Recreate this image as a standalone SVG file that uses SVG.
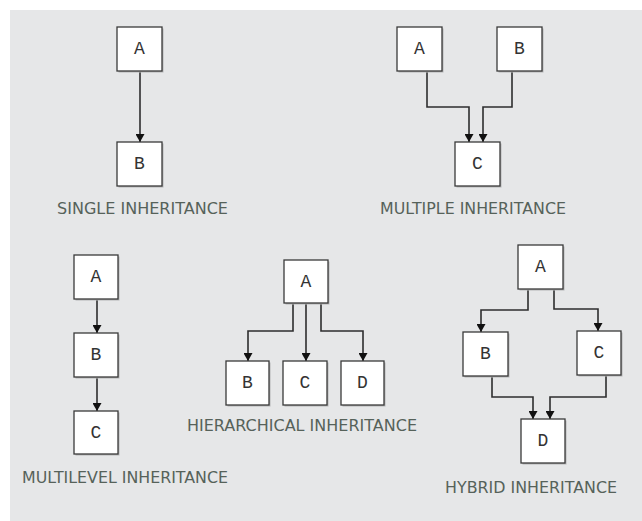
<svg xmlns="http://www.w3.org/2000/svg" width="642" height="521" viewBox="0 0 642 521">
<style>
.bg{fill:#fff}
.panel{fill:#e6e7e8}
.box{fill:#fff;stroke:#3a3a3a;stroke-width:1.3}
.shadow{fill:#b4b5b6}
.nt{font-family:"Liberation Mono","Courier New",monospace;font-size:18px;fill:#333;text-anchor:middle}
.lbl{font-family:"DejaVu Sans",Verdana,sans-serif;font-size:15px;fill:#56625a}
.c{fill:none;stroke:#2e2e2e;stroke-width:1.6;marker-end:url(#ah)}
</style>
<defs>
<marker id="ah" markerWidth="8" markerHeight="9" refX="8" refY="4.5" orient="auto" markerUnits="userSpaceOnUse" viewBox="0 0 8 9">
<path d="M0,0 L8,4.5 L0,9 Z" fill="#111"/>
</marker>
</defs>
<rect class="bg" x="0" y="0" width="642" height="521"/>
<rect class="panel" x="10" y="10" width="632" height="511"/>

<g id="connectors">
<path class="c" d="M140,71 V142"/>
<path class="c" d="M427,71 V107 H469 V142"/>
<path class="c" d="M512,71 V107 H483 V142"/>
<path class="c" d="M97,299 V333"/>
<path class="c" d="M97,377 V411"/>
<path class="c" d="M293,303 V331 H248 V361"/>
<path class="c" d="M306,303 V361"/>
<path class="c" d="M321,303 V331 H363 V361"/>
<path class="c" d="M528,289 V310 H481 V332"/>
<path class="c" d="M554,289 V309 H598 V331"/>
<path class="c" d="M492,376 V397 H533 V419"/>
<path class="c" d="M606,375 V397 H550 V419"/>
</g>

<g id="single-A"><rect class="shadow" x="118.5" y="28.5" width="45" height="44"/><rect class="box" x="117" y="27" width="45" height="44"/><text class="nt" x="139.5" y="54">A</text></g>
<g id="single-B"><rect class="shadow" x="118.5" y="143.5" width="45" height="44"/><rect class="box" x="117" y="142" width="45" height="44"/><text class="nt" x="139.5" y="169">B</text></g>

<g id="multiple-A"><rect class="shadow" x="398.5" y="28.5" width="45" height="44"/><rect class="box" x="397" y="27" width="45" height="44"/><text class="nt" x="419.5" y="54">A</text></g>
<g id="multiple-B"><rect class="shadow" x="498.5" y="28.5" width="45" height="44"/><rect class="box" x="497" y="27" width="45" height="44"/><text class="nt" x="519.5" y="54">B</text></g>
<g id="multiple-C"><rect class="shadow" x="456.5" y="143.5" width="45" height="44"/><rect class="box" x="455" y="142" width="45" height="44"/><text class="nt" x="477.5" y="169">C</text></g>

<g id="multilevel-A"><rect class="shadow" x="75.5" y="256.5" width="44" height="44"/><rect class="box" x="74" y="255" width="44" height="44"/><text class="nt" x="96" y="282">A</text></g>
<g id="multilevel-B"><rect class="shadow" x="75.5" y="334.5" width="44" height="44"/><rect class="box" x="74" y="333" width="44" height="44"/><text class="nt" x="96" y="360">B</text></g>
<g id="multilevel-C"><rect class="shadow" x="75.5" y="412.5" width="44" height="43"/><rect class="box" x="74" y="411" width="44" height="43"/><text class="nt" x="96" y="438">C</text></g>

<g id="hier-A"><rect class="shadow" x="285.5" y="261.5" width="44" height="43"/><rect class="box" x="284" y="260" width="44" height="43"/><text class="nt" x="306" y="287">A</text></g>
<g id="hier-B"><rect class="shadow" x="227.5" y="362.5" width="43" height="44"/><rect class="box" x="226" y="361" width="43" height="44"/><text class="nt" x="247.5" y="388">B</text></g>
<g id="hier-C"><rect class="shadow" x="284.5" y="362.5" width="44" height="44"/><rect class="box" x="283" y="361" width="44" height="44"/><text class="nt" x="305" y="388">C</text></g>
<g id="hier-D"><rect class="shadow" x="342.5" y="362.5" width="43" height="44"/><rect class="box" x="341" y="361" width="43" height="44"/><text class="nt" x="362.5" y="388">D</text></g>

<g id="hybrid-A"><rect class="shadow" x="519.5" y="246.5" width="45" height="44"/><rect class="box" x="518" y="245" width="45" height="44"/><text class="nt" x="540.5" y="272">A</text></g>
<g id="hybrid-B"><rect class="shadow" x="464.5" y="333.5" width="45" height="44"/><rect class="box" x="463" y="332" width="45" height="44"/><text class="nt" x="485.5" y="359">B</text></g>
<g id="hybrid-C"><rect class="shadow" x="578.5" y="332.5" width="44" height="44"/><rect class="box" x="577" y="331" width="44" height="44"/><text class="nt" x="599" y="358">C</text></g>
<g id="hybrid-D"><rect class="shadow" x="522.5" y="420.5" width="44" height="44"/><rect class="box" x="521" y="419" width="44" height="44"/><text class="nt" x="543" y="446">D</text></g>

<g id="labels">
<text class="lbl" x="57" y="214" textLength="171" lengthAdjust="spacingAndGlyphs">SINGLE INHERITANCE</text>
<text class="lbl" x="380" y="214" textLength="186" lengthAdjust="spacingAndGlyphs">MULTIPLE INHERITANCE</text>
<text class="lbl" x="22" y="483" textLength="206" lengthAdjust="spacingAndGlyphs">MULTILEVEL INHERITANCE</text>
<text class="lbl" x="187" y="431" textLength="230" lengthAdjust="spacingAndGlyphs">HIERARCHICAL INHERITANCE</text>
<text class="lbl" x="445" y="493" textLength="172" lengthAdjust="spacingAndGlyphs">HYBRID INHERITANCE</text>
</g>
</svg>
